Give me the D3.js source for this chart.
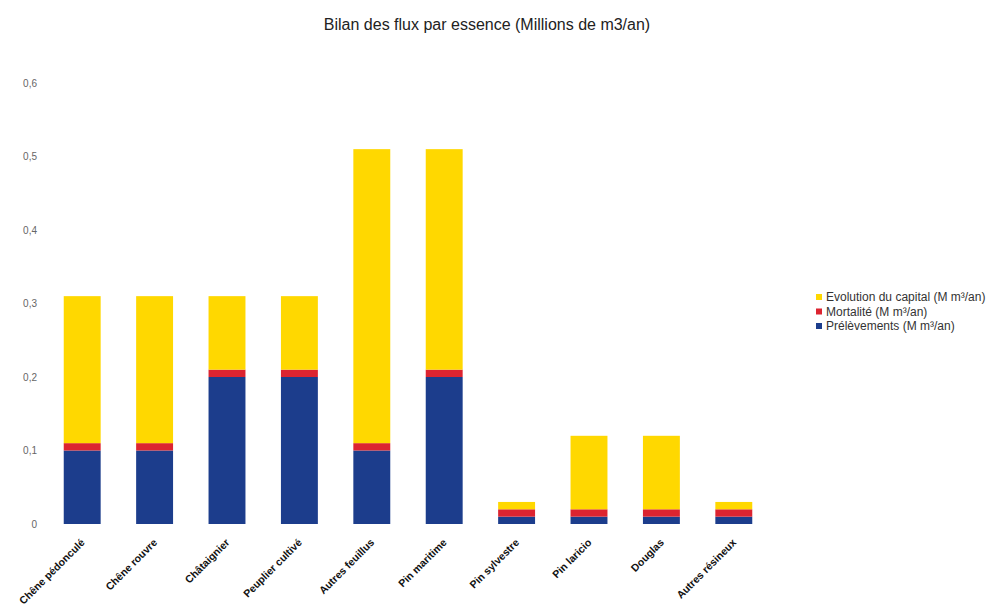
<!DOCTYPE html>
<html><head><meta charset="utf-8">
<script src="https://cdn.jsdelivr.net/npm/d3@7"></script>
<style>body{margin:0;background:#fff}svg{display:block}text{font-family:"Liberation Sans",Arial,sans-serif}</style>
</head><body><svg id="c" width="996" height="607"></svg>
<script>
const categories = ["Chêne pédonculé","Chêne rouvre","Châtaignier","Peuplier cultivé","Autres feuillus","Pin maritime","Pin sylvestre","Pin laricio","Douglas","Autres résineux"];
const prelevements = [0.10,0.10,0.20,0.20,0.10,0.20,0.01,0.01,0.01,0.01];
const mortalite    = [0.01,0.01,0.01,0.01,0.01,0.01,0.01,0.01,0.01,0.01];
const evolution    = [0.20,0.20,0.10,0.10,0.40,0.30,0.01,0.10,0.10,0.01];
const seriesNames = ["Prélèvements (M m³/an)","Mortalité (M m³/an)","Evolution du capital (M m³/an)"];
const yTicks = [0,0.1,0.2,0.3,0.4,0.5,0.6];
const colors = ["#1c3d8c","#dc2430","#ffd800"];

const svg = d3.select("#c");
const x = d3.scaleBand().domain(categories).range([46,770]).paddingInner(0.49).paddingOuter(0.245);
const y = d3.scaleLinear().domain([0,0.6]).range([524,83]);

const rows = categories.map((c,i)=>({cat:c, p:prelevements[i], m:mortalite[i], e:evolution[i]}));
const stack = d3.stack().keys(["p","m","e"])(rows);

svg.append("g").selectAll("g").data(stack).join("g")
  .attr("fill",(d,i)=>colors[i])
  .selectAll("rect").data(d=>d).join("rect")
  .attr("x",d=>x(d.data.cat)).attr("width",x.bandwidth())
  .attr("y",d=>y(d[1])).attr("height",d=>y(d[0])-y(d[1]));

const fmt = d=> d===0 ? "0" : d3.format(".1f")(d).replace(".",",");
const ya = svg.append("g").attr("transform","translate(37,0)")
  .call(d3.axisLeft(y).tickValues(yTicks).tickFormat(fmt).tickSize(0).tickPadding(0));
ya.select(".domain").remove();
ya.selectAll("text").attr("fill","#666").style("font-size","10px").style("font-family","Liberation Sans, Arial, sans-serif");

const xa = svg.append("g");
xa.selectAll("text").data(categories).join("text")
  .attr("transform",d=>`translate(${x(d)+x.bandwidth()/2-2},${538}) rotate(-45)`)
  .attr("text-anchor","end").attr("dy","0.7em")
  .style("font-size","10.5px").style("font-weight","bold").attr("fill","#111")
  .text(d=>d);

svg.append("text").attr("x",487).attr("y",30).attr("text-anchor","middle")
  .style("font-size","16px").attr("fill","#222").text("Bilan des flux par essence (Millions de m3/an)");

const legendOrder = [2,1,0];
const lg = svg.append("g").attr("transform","translate(816,297)");
legendOrder.forEach((s,k)=>{
  const g = lg.append("g").attr("transform",`translate(0,${k*14.5})`);
  g.append("rect").attr("x",0).attr("y",-3).attr("width",6).attr("height",6).attr("fill",colors[s]);
  g.append("text").attr("x",10).attr("y",0).attr("dy","0.35em").style("font-size",
"12px").attr("fill","#333").text(seriesNames[s]);
});
</script></body></html>
